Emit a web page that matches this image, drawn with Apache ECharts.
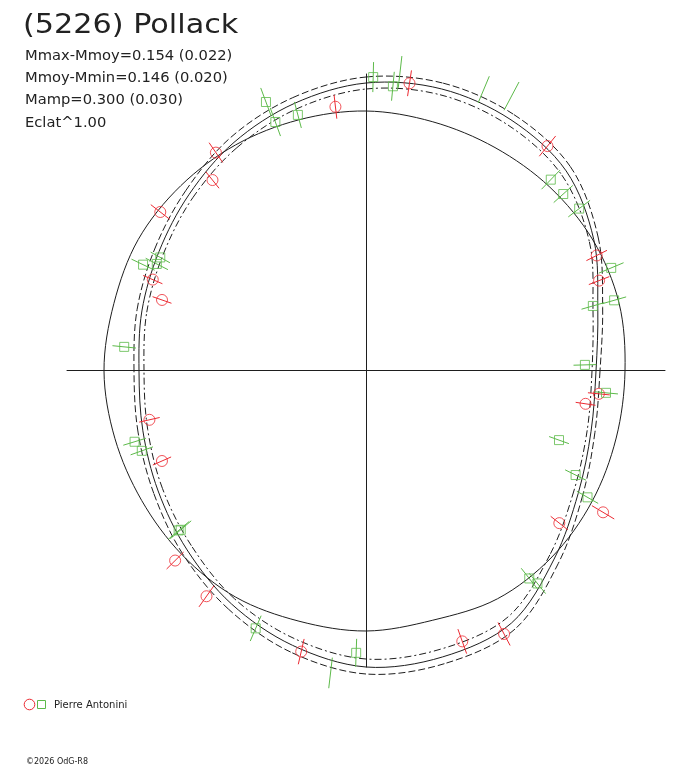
<!DOCTYPE html>
<html>
<head>
<meta charset="utf-8">
<title>(5226) Pollack</title>
<script src="https://cdn.jsdelivr.net/npm/echarts@6/dist/echarts.min.js"></script>
<style>
    html, body { margin: 0; padding: 0; background: #fff; }
    #chart { width: 688px; height: 768px; }
</style>
</head>
<body>
<div id="chart"></div>
<script>
// phase (deg, clockwise from top) of the sampled curve points
var phaseDeg = [0, 15, 30, 45, 60, 75, 90, 105, 120, 135, 150, 165,
                180, 195, 210, 225, 240, 255, 270, 285, 300, 315, 330, 345];
var fitR   = [288, 292, 290, 283, 263, 240, 230, 233, 245, 266, 291, 296,
              296, 284, 269, 253, 240, 231, 227, 232, 239, 250, 264, 277];
var fitHiR = [294, 298, 296, 289, 268, 245, 234, 237, 250, 272, 298, 303,
              303, 291, 275, 259, 245, 236, 232, 237, 244, 255, 270, 283];
var fitLoR = [282, 286, 284, 277, 258, 235, 226, 229, 240, 260, 284, 288,
              288, 277, 263, 247, 235, 226, 222, 227, 234, 245, 258, 271];
var refR   = [260, 258, 258, 260, 262, 262, 259, 259, 261, 263, 263, 258,
              260, 259, 261, 260, 259, 260, 262, 261, 263, 262, 261, 260];

// session 1 (red circles)
var redPhase = [353.4, 8.6, 38.9, 63.4, 68.8, 95.6, 98.5, 120.8, 128.2, 152.3, 160.4,
                193, 215.3, 225.2, 246.2, 257.3, 289.2, 293.2, 307.7, 321.2, 325.5];
var redR     = [266, 291, 289, 258, 250, 234, 222, 276, 246, 297, 287,
                288, 276, 269, 223, 222, 216, 232, 260, 245, 265];
var redErr   = [12, 13, 13, 11.5, 11, 11, 10, 13, 11, 13, 13,
                13, 13, 12, 10, 10.5, 10, 10.5, 12, 10.5, 12];

// session 2 (green squares)
var greenPhase = [1.4, 6.5, 5.4, 339.6, 340, 345.1, 22.7, 27.9, 44, 48.1, 52.7,
                  67.2, 74.1, 74, 88.4, 95.2, 109.7, 116.4, 119.7, 141.8, 141.1,
                  182, 186.7, 203.2, 229.4, 229.6, 253, 250.4, 275.7, 295.5, 297.1, 298.9];
var greenR     = [294, 301, 286, 287, 265, 265, 305, 311, 266, 265, 268,
                  266, 258, 236, 219, 241, 205, 234, 255, 264, 273,
                  282, 304, 280, 244, 246, 242, 238, 243, 247, 235, 235];
var greenErr   = [15, 16, 14.5, 15, 15, 13.5, 14.5, 16, 13.3, 12.8, 13.7,
                  13.4, 12.5, 11.8, 11.4, 12, 10.5, 11.7, 12.3, 13, 13,
                  14, 15.4, 13.8, 13.8, 13.8, 11.8, 11.9, 11.8, 12.8, 12.5, 11];

var infoLines = ['Mmax-Mmoy=0.154 (0.022)', 'Mmoy-Mmin=0.146 (0.020)',
                 'Mamp=0.300 (0.030)', 'Eclat^1.00'];

var RED = '#ec2a32';
var GREEN = '#5dba4a';
var INK = '#1e1e1e';
var FONT = '"DejaVu Sans", sans-serif';

function points(rs, ph, er) {
    return ph.map(function (a, i) { return [rs[i], a, er[i]]; });
}

// radial error bar through each point
function radialBar(color) {
    return function (params, api) {
        var r = api.value(0), a = api.value(1), e = api.value(2);
        var p0 = api.coord([r - e, a]);
        var p1 = api.coord([r + e, a]);
        return {
            type: 'line',
            shape: { x1: p0[0], y1: p0[1], x2: p1[0], y2: p1[1] },
            style: { stroke: color, lineWidth: 1 }
        };
    };
}

// closed smooth curve: each sample draws the bezier piece to the next one
function closedCurve(rs, dash) {
    var n = rs.length;
    return {
        type: 'custom', coordinateSystem: 'polar', silent: true,
        encode: { radius: 0, angle: 1 },
        data: phaseDeg.map(function (a, i) { return [rs[i], a]; }),
        renderItem: function (params, api) {
            var i = params.dataIndexInside;
            function pt(k) {
                k = (k + n) % n;
                return api.coord([api.value(0, k), api.value(1, k)]);
            }
            var p0 = pt(i - 1), p1 = pt(i), p2 = pt(i + 1), p3 = pt(i + 2);
            return {
                type: 'bezierCurve',
                shape: {
                    x1: p1[0], y1: p1[1], x2: p2[0], y2: p2[1],
                    cpx1: p1[0] + (p2[0] - p0[0]) / 6, cpy1: p1[1] + (p2[1] - p0[1]) / 6,
                    cpx2: p2[0] - (p3[0] - p1[0]) / 6, cpy2: p2[1] - (p3[1] - p1[1]) / 6
                },
                style: { stroke: INK, lineWidth: 1, fill: null, lineDash: dash || null }
            };
        }
    };
}

var chart = echarts.init(document.getElementById('chart'));

var graphics = [{
    type: 'text', x: 23, y: 26.3, scaleX: 1.12,
    style: { text: '(5226) Pollack', font: '27px ' + FONT, fill: '#222', verticalAlign: 'middle' }
}];
infoLines.forEach(function (t, i) {
    graphics.push({
        type: 'text', x: 25, y: 56 + i * 22.3, scaleX: 1.05,
        style: { text: t, font: '14px ' + FONT, fill: '#222', verticalAlign: 'middle' }
    });
});
graphics.push(
    { type: 'circle', shape: { cx: 29.5, cy: 704.5, r: 5.3 },
      style: { fill: 'none', stroke: RED, lineWidth: 1 } },
    { type: 'rect', shape: { x: 37.5, y: 700.5, width: 8, height: 8 },
      style: { fill: 'none', stroke: GREEN, lineWidth: 1 } },
    { type: 'text', left: 54, top: 700,
      style: { text: 'Pierre Antonini', font: '10px ' + FONT, fill: '#222' } },
    { type: 'text', left: 26, top: 758,
      style: { text: '\u00a92026 OdG-R8', font: '8px ' + FONT, fill: '#222' } }
);

var option = {
    animation: false,
    backgroundColor: '#fff',
    grid: { left: 67, right: 23, top: 74, bottom: 101 },
    xAxis: {
        type: 'value', min: -1, max: 1,
        axisLine: { onZero: true, lineStyle: { color: INK, width: 1 } },
        axisTick: { show: false }, axisLabel: { show: false }, splitLine: { show: false }
    },
    yAxis: {
        type: 'value', min: -1, max: 1,
        axisLine: { show: true, onZero: true, lineStyle: { color: INK, width: 1 } },
        axisTick: { show: false }, axisLabel: { show: false }, splitLine: { show: false }
    },
    polar: { center: [366, 371], radius: 298 },
    angleAxis: { type: 'value', min: 0, max: 360, startAngle: 90, clockwise: true, show: false },
    radiusAxis: { type: 'value', min: 0, max: 298, show: false },
    graphic: graphics,
    series: [
        closedCurve(refR),
        closedCurve(fitHiR, [7, 3]),
        closedCurve(fitR),
        closedCurve(fitLoR, [7, 3, 2, 3]),
        {
            type: 'custom', coordinateSystem: 'polar',
            encode: { radius: 0, angle: 1 },
            data: points(redR, redPhase, redErr), renderItem: radialBar(RED)
        },
        {
            type: 'custom', coordinateSystem: 'polar',
            encode: { radius: 0, angle: 1 },
            data: points(greenR, greenPhase, greenErr), renderItem: radialBar(GREEN)
        },
        {
            type: 'scatter', coordinateSystem: 'polar', symbol: 'circle', symbolSize: 11,
            data: points(redR, redPhase, redErr),
            itemStyle: { color: 'rgba(0,0,0,0)', borderColor: RED, borderWidth: 1 }
        },
        {
            type: 'scatter', coordinateSystem: 'polar', symbol: 'rect', symbolSize: 9,
            data: points(greenR, greenPhase, greenErr),
            itemStyle: { color: 'rgba(0,0,0,0)', borderColor: GREEN, borderWidth: 1 }
        }
    ]
};
chart.setOption(option);
</script>
</body>
</html>
